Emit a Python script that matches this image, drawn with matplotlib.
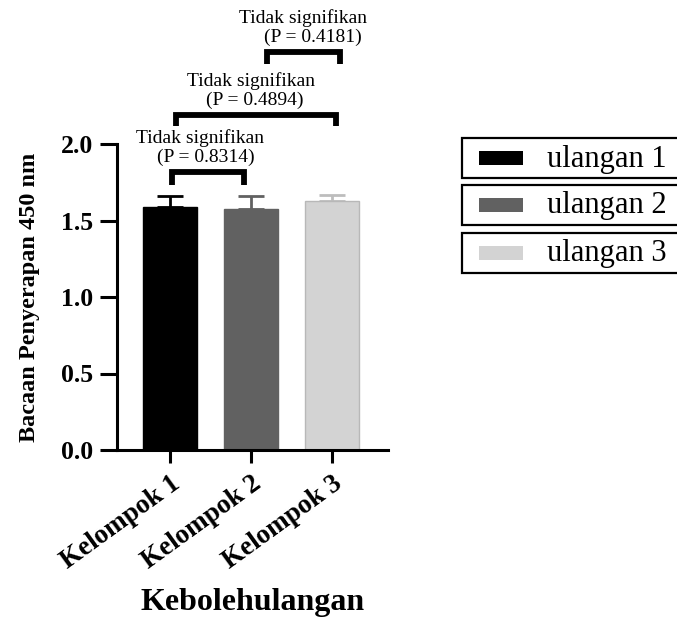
import matplotlib
matplotlib.use("Agg")
import matplotlib.pyplot as plt
from matplotlib.patches import Rectangle

# ---- data ----
groups = ["Kelompok 1", "Kelompok 2", "Kelompok 3"]
series = ["ulangan 1", "ulangan 2", "ulangan 3"]
means = [1.59, 1.577, 1.625]
errors = [0.068, 0.083, 0.044]
comparisons = [(0, 1), (0, 2), (1, 2)]
p_values = [0.8314, 0.4894, 0.4181]
sig_label = "Tidak signifikan"
y_ticks = [0.0, 0.5, 1.0, 1.5, 2.0]
y_label = "Bacaan Penyerapan 450 nm"
x_label = "Kebolehulangan"

bar_colors = ["#000000", "#616161", "#d3d3d3"]
edge_colors = ["#000000", "#616161", "#b8b8b8"]
err_colors = ["#000000", "#616161", "#bdbdbd"]

W, H = 677, 617
fig = plt.figure(figsize=(W / 100, H / 100), dpi=100)
ax = fig.add_axes([117 / W, 1 - 450 / H, (388 - 117) / W, (450 - 144) / H])

serif = "Liberation Serif"
x = list(range(len(groups)))
for i in x:
    ax.bar(i, means[i], width=0.667, color=bar_colors[i], edgecolor=edge_colors[i],
           linewidth=1.0, zorder=2)
    ax.errorbar(i, means[i], yerr=[[0], [errors[i]]], fmt="none", ecolor=err_colors[i],
                elinewidth=2.0, capsize=9.5, capthick=2.0, zorder=1)

ax.set_xlim(-0.654, 2.69)
ax.set_ylim(0, 2.0)
ax.set_yticks(y_ticks)
ax.set_yticklabels([f"{v:.1f}" for v in y_ticks], fontfamily=serif, fontweight="bold",
                   fontsize=18.5)
ax.set_xticks(x)
ax.set_xticklabels(groups, rotation=36, ha="right", va="top", rotation_mode="anchor",
                   fontfamily=serif, fontweight="bold", fontsize=19.5)
ax.tick_params(axis="y", length=12, width=2.2, pad=5)
ax.tick_params(axis="x", length=9.5, width=2.2, pad=6)
for s in ["top", "right"]:
    ax.spines[s].set_visible(False)
for s in ["left", "bottom"]:
    ax.spines[s].set_linewidth(2.2)

ax.set_ylabel(y_label, fontfamily=serif, fontweight="bold", fontsize=17.5, labelpad=15)
ax.set_xlabel(x_label, fontfamily=serif, fontweight="bold", fontsize=23, labelpad=10)

# ---- significance brackets ----
br_off = [(0.02, -0.09), (0.07, 0.05), (0.20, 0.10)]
br_top = [1.82, 2.19, 2.60]
br_drop = [0.09, 0.07, 0.08]
txt1_x = [0.37, 1.00, 1.64]
txt2_x = [0.44, 1.05, 1.76]
for k, (a, b) in enumerate(comparisons):
    xa, xb = a + br_off[k][0], b + br_off[k][1]
    yt = br_top[k]
    ax.plot([xa, xa, xb, xb], [yt - br_drop[k], yt, yt, yt - br_drop[k]], color="black",
            lw=4.2, solid_joinstyle="miter", solid_capstyle="butt", clip_on=False)
    ax.text(txt1_x[k], yt + 0.22, sig_label, ha="center", va="center", fontfamily=serif,
            fontsize=14, clip_on=False)
    ax.text(txt2_x[k], yt + 0.095, f"(P = {p_values[k]:.4f})", ha="center", va="center",
            fontfamily=serif, fontsize=14, clip_on=False)

# ---- legend: separate framed boxes ----
def fx(px):
    return px / W

def fy(py):
    return 1 - py / H

box_tops = [138, 185, 233]
box_h = 40
for k, name in enumerate(series):
    top = box_tops[k]
    fig.add_artist(Rectangle((fx(462), fy(top + box_h)), fx(700) - fx(462), box_h / H,
                             transform=fig.transFigure, facecolor="white",
                             edgecolor="black", linewidth=1.6, clip_on=False))
    cy = top + box_h / 2
    fig.add_artist(Rectangle((fx(479), fy(cy + 7)), (523 - 479) / W, 14 / H,
                             transform=fig.transFigure, facecolor=bar_colors[k],
                             edgecolor="none"))
    fig.text(fx(547), fy(cy + 1), name, ha="left", va="center", fontfamily=serif,
             fontsize=22)

fig.savefig("out.png", dpi=100)
